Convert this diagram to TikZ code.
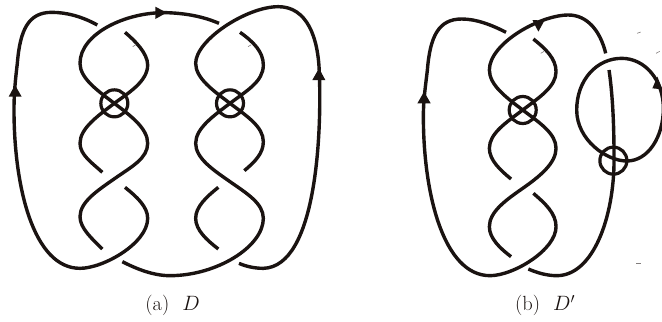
\documentclass[tikz,border=0pt]{standalone}
\definecolor{ink}{HTML}{1A1311}
\tikzset{
 strand/.style={draw=ink,line width=3.4pt,line cap=butt,line join=round},
 virt/.style={circle,draw=ink,line width=3.2pt,minimum size=27pt,inner sep=0pt,fill=none},
 tip/.style={fill=ink,draw=none},
 speck/.style={draw=ink!55,line width=0.6pt},
 figlabel/.style={text=ink,font=\fontsize{20.5}{24}\selectfont,inner sep=0pt}
}
\begin{document}
\begin{tikzpicture}[x=0.3333pt,y=-0.3333pt]
\useasboundingbox (0,0) rectangle (1986,963);
\clip (0,0) rectangle (1986,963);
% panel (a)
\draw[strand] (292,75) .. controls (247,50) and (200,37) .. (155,37) .. controls (85,37) and (60,90) .. (52,190) .. controls (46,240) and (42,280) .. (42,330) .. controls (42,560) and (100,805) .. (240,805) .. controls (310,805) and (443,730) .. (443,655) .. controls (443,620) and (410,590) .. (375,562);
\draw[strand] (657,70) .. controls (610,50) and (560,40) .. (500,38) .. controls (380,35) and (240,100) .. (240,190) .. controls (240,235) and (293,272) .. (343,310) .. controls (393,348) and (443,385) .. (443,430) .. controls (443,475) and (395,500) .. (345,535) .. controls (295,570) and (240,605) .. (240,650) .. controls (240,685) and (277,717) .. (307,747);
\draw[strand] (375,97) .. controls (405,122) and (443,160) .. (443,195) .. controls (443,245) and (383,280) .. (343,310) .. controls (293,348) and (240,385) .. (240,430) .. controls (240,465) and (277,489) .. (307,517);
\draw[strand] (720,97) .. controls (760,125) and (790,155) .. (790,195) .. controls (790,245) and (740,272) .. (690,310) .. controls (640,348) and (587,385) .. (587,430) .. controls (587,475) and (640,510) .. (690,545) .. controls (740,580) and (790,610) .. (790,655) .. controls (790,740) and (650,827) .. (510,827) .. controls (460,827) and (410,807) .. (367,785);
\draw[strand] (733,512) .. controls (765,485) and (790,460) .. (790,425) .. controls (790,380) and (740,348) .. (690,310) .. controls (640,272) and (587,235) .. (587,190) .. controls (587,120) and (740,20) .. (835,20) .. controls (920,20) and (955,110) .. (958,220) .. controls (965,400) and (950,800) .. (790,805) .. controls (765,805) and (740,800) .. (717,790);
\draw[strand] (655,562) .. controls (620,590) and (587,620) .. (587,655) .. controls (587,690) and (620,720) .. (655,747);
\node[virt] (a1) at (343,310) {};
\node[virt] (a2) at (690,310) {};
\fill[tip] (45,255)--(26,290)--(65,290)--cycle;
\fill[tip] (957,205)--(937,240)--(976,240)--cycle;
\fill[tip] (500,38)--(466,20)--(466,57)--cycle;
\draw[speck] (398,140)--(408,134);
\draw[speck] (744,140)--(754,134);
\node[figlabel] (la) at (518,917) {(a)\hspace{13pt}$D$};
% panel (b)
\begin{scope}[xshift=400pt]
\draw[strand] (318,97) .. controls (275,75) and (230,57) .. (185,57) .. controls (115,57) and (90,110) .. (82,210) .. controls (75,270) and (70,300) .. (70,350) .. controls (70,580) and (130,827) .. (270,827) .. controls (340,827) and (468,750) .. (468,680) .. controls (468,640) and (435,610) .. (400,580);
\draw[strand] (617,160) .. controls (600,90) and (560,45) .. (505,45) .. controls (420,45) and (268,130) .. (268,210) .. controls (268,255) and (318,292) .. (368,330) .. controls (418,368) and (468,400) .. (468,445) .. controls (468,490) and (418,530) .. (368,565) .. controls (318,600) and (268,635) .. (268,680) .. controls (268,715) and (300,745) .. (333,770);
\draw[strand] (400,117) .. controls (435,145) and (468,175) .. (468,215) .. controls (468,260) and (418,292) .. (368,330) .. controls (318,368) and (268,400) .. (268,445) .. controls (268,480) and (300,510) .. (333,537);
\draw[strand] (627,210) .. controls (640,300) and (642,400) .. (642,480) .. controls (642,650) and (580,827) .. (470,827) .. controls (440,827) and (410,818) .. (385,807);
\draw[strand] (665,175) .. controls (735,175) and (790,240) .. (790,325) .. controls (790,410) and (745,483) .. (680,483) .. controls (620,483) and (530,420) .. (530,330) .. controls (530,240) and (590,175) .. (665,175) -- cycle;
\node[virt] (b1) at (368,330) {};
\node[virt] (b2) at (640,482) {};
\fill[tip] (72,275)--(52,310)--(92,310)--cycle;
\fill[tip] (433,62)--(397,60)--(415,95)--cycle;
\fill[tip] (772,230)--(757,265)--(787,268)--cycle;
\draw[speck] (422,160)--(432,154);
\draw[speck] (711,100)--(722,96);
\draw[speck] (768,160)--(779,154);
\draw[speck] (709,790)--(722,790);
\node[figlabel] (lb) at (435,917) {(b)\hspace{13pt}$D'$};
\end{scope}
\end{tikzpicture}
\end{document}
